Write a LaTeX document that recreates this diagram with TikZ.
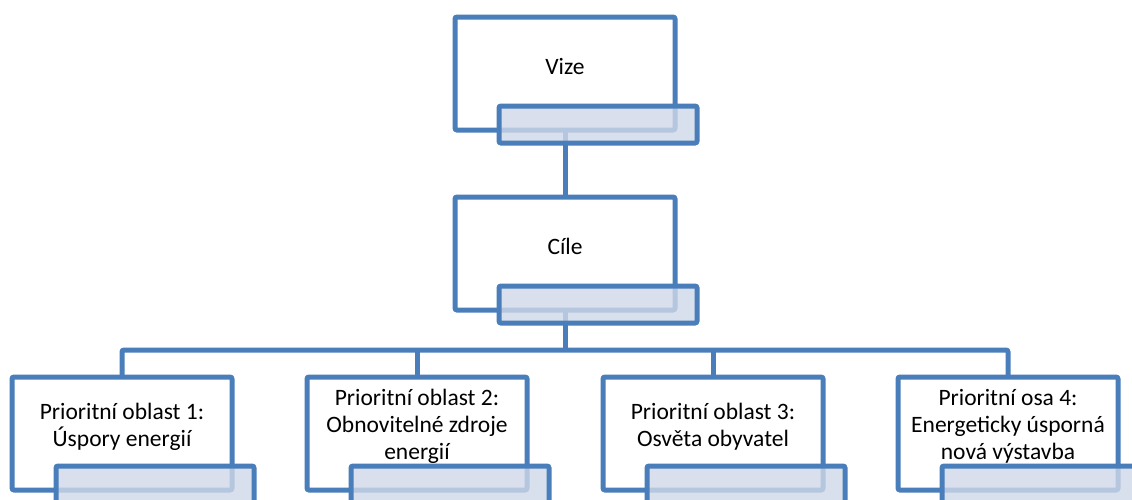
\documentclass[tikz,border=0pt]{standalone}
\usepackage{fontspec}
\setmainfont{Carlito}
\definecolor{bl}{HTML}{4A7EBB}
\definecolor{barfill}{HTML}{D0D8E8}
\begin{document}
\begin{tikzpicture}[x=1pt,y=1pt,
  box/.style={draw=bl, line width=5pt, rounded corners=2pt, minimum width=220pt, minimum height=113pt, inner sep=0pt, outer sep=0pt, fill=white},
  bar/.style={draw=bl, line width=5pt, rounded corners=2pt, minimum width=198pt, minimum height=37pt, inner sep=0pt, outer sep=0pt, fill=barfill, fill opacity=0.8},
  lbl/.style={font=\fontsize{23.5}{27}\selectfont, align=center, text=black, inner sep=0pt},
  conn/.style={draw=bl, line width=5pt, rounded corners=2pt}]
\useasboundingbox (0,0) rectangle (1132,-499);
\coordinate (hub) at (565,-350);
% boxes positions
\path (565,-73.5) coordinate (pv) (565,-253.5) coordinate (pc)
      (122,-433.5) coordinate (p1) (417,-433.5) coordinate (p2)
      (713,-433.5) coordinate (p3) (1008,-433.5) coordinate (p4);
% connectors (behind)
\node[box, draw=none, fill=none] (v) at (pv) {};
\node[box, draw=none, fill=none] (c) at (pc) {};
\node[box, draw=none, fill=none] (b1) at (p1) {};
\node[box, draw=none, fill=none] (b2) at (p2) {};
\node[box, draw=none, fill=none] (b3) at (p3) {};
\node[box, draw=none, fill=none] (b4) at (p4) {};
\draw[conn] (v.center) -- (c.north);
\draw[conn] (c.center) -- (hub);
\draw[conn] (b1.north) |- (hub) -| (b4.north);
\draw[conn] (b2.north |- hub) -- (b2.north);
\draw[conn] (b3.north |- hub) -- (b3.north);
% boxes
\foreach \n in {v,c,b1,b2,b3,b4} {
  \node[box] at (\n.center) {};
}
% labels
\node[lbl] (tv) at ([yshift=7pt]v.center) {Vize};
\node[lbl] (tc) at ([yshift=7pt]c.center) {Cíle};
\node[lbl] (t1) at ([yshift=7pt]b1.center) {Prioritní oblast 1:\\Úspory energií};
\node[lbl] (t2) at ([yshift=7pt]b2.center) {Prioritní oblast 2:\\Obnovitelné zdroje\\energií};
\node[lbl] (t3) at ([yshift=7pt]b3.center) {Prioritní oblast 3:\\Osvěta obyvatel};
\node[lbl] (t4) at ([yshift=7pt]b4.center) {Prioritní osa 4:\\Energeticky úsporná\\nová výstavba};
% bars
\node[bar] (vb) at ([xshift=33pt,yshift=-51pt]v.center) {};
\node[bar] (cb) at ([xshift=33pt,yshift=-51pt]c.center) {};
\node[bar] (bb1) at ([xshift=33pt,yshift=-51pt]b1.center) {};
\node[bar] (bb2) at ([xshift=33pt,yshift=-51pt]b2.center) {};
\node[bar] (bb3) at ([xshift=33pt,yshift=-51pt]b3.center) {};
\node[bar] (bb4) at ([xshift=33pt,yshift=-51pt]b4.center) {};
\end{tikzpicture}
\end{document}
